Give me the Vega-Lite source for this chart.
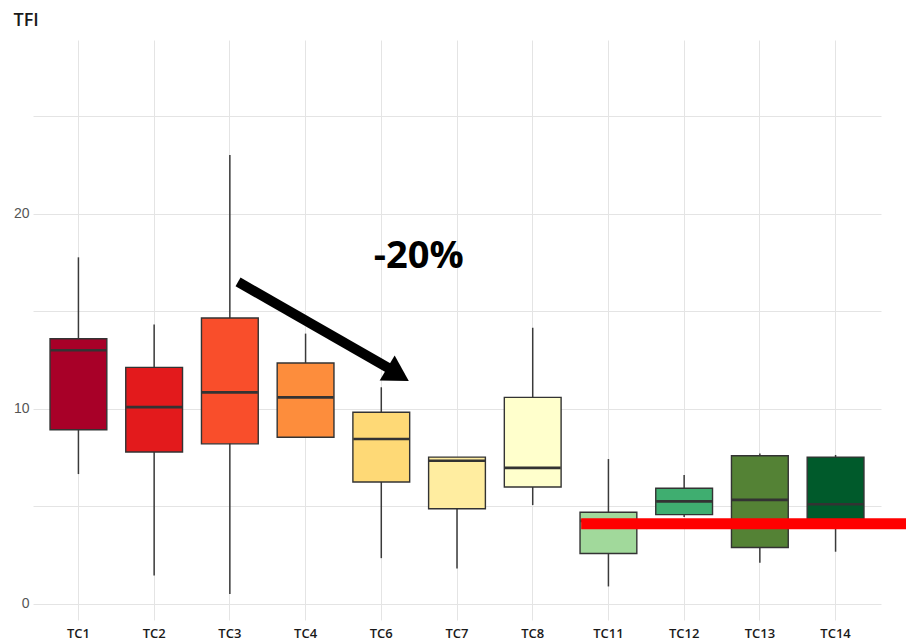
{
  "$schema": "https://vega.github.io/schema/vega-lite/v6.json",
  "autosize": {"type": "none"},
  "padding": {"left": 33, "top": 40, "right": 25, "bottom": 20},
  "width": 848,
  "height": 580,
  "background": "white",
  "config": {"view": {"stroke": null}},
  "datasets": {
    "boxes": [
      {"tc": "TC1", "min": 6.65, "q1": 8.92, "median": 13.0, "q3": 13.59, "max": 17.76, "color": "#a80028"},
      {"tc": "TC2", "min": 1.45, "q1": 7.78, "median": 10.08, "q3": 12.12, "max": 14.32, "color": "#e31a1c"},
      {"tc": "TC3", "min": 0.5, "q1": 8.2, "median": 10.84, "q3": 14.65, "max": 23.0, "color": "#f94e2b"},
      {"tc": "TC4", "min": 8.54, "q1": 8.54, "median": 10.58, "q3": 12.34, "max": 13.85, "color": "#fd8d3c"},
      {"tc": "TC6", "min": 2.34, "q1": 6.24, "median": 8.45, "q3": 9.82, "max": 11.1, "color": "#fed976"},
      {"tc": "TC7", "min": 1.81, "q1": 4.87, "median": 7.33, "q3": 7.52, "max": 7.52, "color": "#ffeda0"},
      {"tc": "TC8", "min": 5.06, "q1": 5.99, "median": 6.97, "q3": 10.58, "max": 14.15, "color": "#ffffcc"},
      {"tc": "TC11", "min": 0.89, "q1": 2.58, "median": 4.25, "q3": 4.69, "max": 7.42, "color": "#a1d99b"},
      {"tc": "TC12", "min": 4.45, "q1": 4.57, "median": 5.25, "q3": 5.92, "max": 6.6, "color": "#3fae70"},
      {"tc": "TC13", "min": 2.1, "q1": 2.89, "median": 5.33, "q3": 7.59, "max": 7.71, "color": "#548235"},
      {"tc": "TC14", "min": 2.67, "q1": 4.0, "median": 5.1, "q3": 7.52, "max": 7.63, "color": "#005a2b"}
    ],
    "threshold": [{"from": "TC11", "to": "TC14", "value": 4.1}],
    "arrow": [{"from": "TC3", "to": "TC6", "ystart": 16.5, "yend": 12.04}],
    "arrowhead": [{"tc": "TC6", "y": 11.75}],
    "label": [{"tc": "TC6", "y": 17.22, "text": "-20%"}]
  },
  "layer": [
    {
      "data": {"name": "boxes"},
      "mark": {"type": "rule", "color": "#3a3a3a", "strokeWidth": 1.5},
      "encoding": {
        "x": {
          "field": "tc", "type": "nominal",
          "scale": {"domain": ["TC1","TC2","TC3","TC4","TC6","TC7","TC8","TC11","TC12","TC13","TC14"], "paddingInner": 0.25, "paddingOuter": 0.225},
          "axis": {"title": null, "grid": true, "gridColor": "#e4e4e4", "gridWidth": 1, "domain": false, "ticks": false, "labelPadding": 7, "labelAngle": 0, "labelFont": "Open Sans", "labelFontWeight": 600, "labelFontSize": 13, "labelColor": "#1a1a1a"}
        },
        "y": {
          "field": "min", "type": "quantitative",
          "scale": {"domain": [-0.83, 28.9], "nice": false, "zero": false},
          "axis": {"values": [0, 5, 10, 15, 20, 25], "labelExpr": "datum.value % 10 === 0 ? datum.label : ''", "grid": true, "gridColor": "#e4e4e4", "gridWidth": 1, "domain": false, "ticks": false, "labelPadding": 4, "labelFont": "Liberation Sans", "labelFontSize": 14, "labelColor": "#555555", "title": "TFI", "titleAngle": 0, "titleAlign": "left", "titleBaseline": "alphabetic", "titleX": -20, "titleY": -15, "titleFont": "Open Sans", "titleFontSize": 18, "titleFontWeight": 600, "titleColor": "#1a1a1a"}
        },
        "y2": {"field": "max"}
      }
    },
    {
      "data": {"name": "boxes"},
      "mark": {"type": "bar", "stroke": "#333333", "strokeWidth": 1.4},
      "encoding": {
        "x": {"field": "tc", "type": "nominal"},
        "y": {"field": "q1", "type": "quantitative"},
        "y2": {"field": "q3"},
        "fill": {"field": "color", "type": "nominal", "scale": null}
      }
    },
    {
      "data": {"name": "boxes"},
      "mark": {"type": "tick", "color": "#333333", "thickness": 2.6, "size": 56, "opacity": 1},
      "encoding": {
        "x": {"field": "tc", "type": "nominal"},
        "y": {"field": "median", "type": "quantitative"}
      }
    },
    {
      "data": {"name": "threshold"},
      "mark": {"type": "rule", "color": "#ff0000", "strokeWidth": 11, "strokeCap": "butt"},
      "encoding": {
        "x": {"field": "from", "type": "nominal", "bandPosition": 0.02},
        "x2": {"field": "to", "bandPosition": 1.8},
        "y": {"field": "value", "type": "quantitative"}
      }
    },
    {
      "data": {"name": "arrow"},
      "mark": {"type": "rule", "color": "#000000", "strokeWidth": 10, "strokeCap": "butt"},
      "encoding": {
        "x": {"field": "from", "type": "nominal", "bandPosition": 0.644},
        "x2": {"field": "to", "bandPosition": 0.653},
        "y": {"field": "ystart", "type": "quantitative"},
        "y2": {"field": "yend"}
      }
    },
    {
      "data": {"name": "arrowhead"},
      "mark": {"type": "point", "shape": "triangle-right", "filled": true, "color": "#000000", "opacity": 1, "size": 850, "angle": 31, "strokeWidth": 0},
      "encoding": {
        "x": {"field": "tc", "type": "nominal", "bandPosition": 0.794},
        "y": {"field": "y", "type": "quantitative"}
      }
    },
    {
      "data": {"name": "label"},
      "mark": {"type": "text", "font": "Open Sans", "fontSize": 38, "fontWeight": "bold", "color": "#000000", "align": "center", "baseline": "alphabetic"},
      "encoding": {
        "x": {"field": "tc", "type": "nominal", "bandPosition": 1.16},
        "y": {"field": "y", "type": "quantitative"},
        "text": {"field": "text"}
      }
    }
  ]
}
